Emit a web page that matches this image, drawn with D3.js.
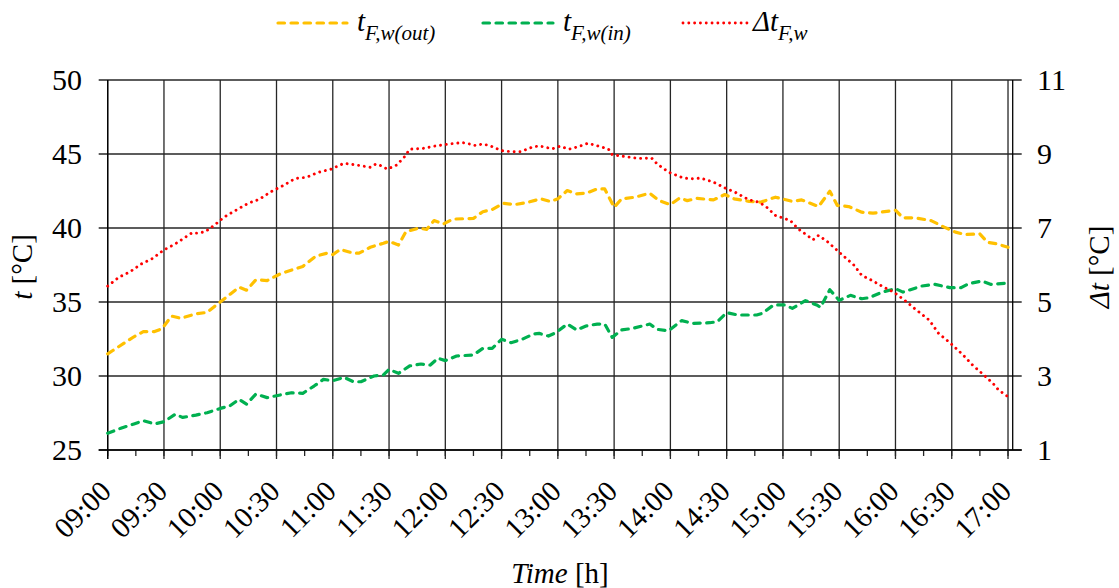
<!DOCTYPE html>
<html>
<head>
<meta charset="utf-8">
<script src="https://cdn.jsdelivr.net/npm/d3@7"></script>
</head>
<body style="margin:0">
<div id="chart"></div>
<script>
// t_F,w(out) - left axis
const outTimes = ["09:00","09:14","09:19","09:25","09:29","09:34","09:39","09:47","09:53","10:00","10:05","10:10","10:14","10:19","10:25","10:32","10:39","10:44","10:51","10:57","11:00","11:04","11:11","11:14","11:20","11:27","11:30","11:35","11:39","11:46","11:50","11:54","11:59","12:04","12:15","12:20","12:25","12:31","12:37","12:44","12:51","12:56","13:00","13:05","13:10","13:15","13:21","13:25","13:30","13:34","13:41","13:49","13:54","14:00","14:05","14:09","14:14","14:23","14:29","14:34","14:42","14:48","14:56","15:05","15:10","15:19","15:25","15:29","15:35","15:42","15:48","16:00","16:04","16:10","16:19","16:26","16:32","16:37","16:45","16:49","16:54","17:00"];
const outValues = [31.5,32.65,33.0,33.0,33.2,34.05,33.9,34.2,34.3,35.0,35.5,36.0,35.8,36.5,36.45,36.9,37.2,37.4,38.1,38.3,38.2,38.55,38.3,38.3,38.7,38.97,39.1,38.85,39.75,40.0,39.9,40.5,40.27,40.6,40.65,41.1,41.25,41.67,41.58,41.74,41.97,41.79,41.97,42.53,42.3,42.35,42.64,42.64,41.4,41.97,42.08,42.35,41.85,41.58,42.03,41.85,42.0,41.9,42.26,41.97,41.8,41.74,42.08,41.8,41.9,41.45,42.48,41.52,41.45,41.07,41.0,41.2,40.69,40.69,40.5,40.06,39.72,39.56,39.6,39.04,38.93,38.7];

// t_F,w(in) - left axis
const inTimes = ["09:00","09:07","09:14","09:19","09:25","09:30","09:36","09:40","09:47","09:53","10:00","10:05","10:10","10:14","10:19","10:25","10:32","10:38","10:44","10:50","10:55","11:00","11:06","11:11","11:15","11:22","11:27","11:30","11:35","11:41","11:47","11:52","11:56","12:00","12:06","12:15","12:20","12:25","12:30","12:35","12:41","12:47","12:50","12:55","12:59","13:05","13:10","13:15","13:21","13:25","13:29","13:34","13:40","13:49","13:53","13:59","14:06","14:12","14:21","14:25","14:30","14:36","14:46","14:49","14:55","15:01","15:05","15:12","15:18","15:20","15:25","15:30","15:36","15:42","15:46","15:53","16:00","16:04","16:14","16:21","16:29","16:35","16:39","16:46","16:51","17:00"];
const inValues = [26.13,26.47,26.76,26.98,26.76,26.91,27.41,27.2,27.36,27.52,27.81,27.97,28.42,28.1,28.78,28.54,28.72,28.87,28.83,29.32,29.77,29.68,29.91,29.61,29.61,30.0,30.07,30.45,30.18,30.68,30.81,30.74,31.2,31.04,31.35,31.42,31.87,31.87,32.48,32.25,32.48,32.84,32.88,32.7,32.93,33.51,33.11,33.38,33.51,33.51,32.61,33.11,33.22,33.51,33.15,33.06,33.74,33.56,33.6,33.67,34.28,34.12,34.12,34.23,34.8,34.8,34.57,35.09,34.8,34.64,35.83,35.11,35.45,35.22,35.29,35.67,35.9,35.67,36.08,36.19,35.97,35.97,36.24,36.42,36.19,36.28];

// Δt_F,w - right axis
const dTimes = ["09:00","09:06","09:12","09:18","09:24","09:30","09:36","09:42","09:45","09:48","09:52","09:57","10:02","10:09","10:15","10:21","10:27","10:34","10:40","10:46","10:52","10:59","11:06","11:13","11:20","11:23","11:26","11:29","11:34","11:38","11:41","11:48","11:55","12:02","12:09","12:13","12:16","12:20","12:24","12:30","12:36","12:40","12:46","12:50","12:57","13:01","13:06","13:11","13:16","13:24","13:27","13:29","13:36","13:43","13:50","13:53","13:59","14:07","14:12","14:16","14:23","14:30","14:34","14:42","14:47","14:51","14:56","15:04","15:08","15:13","15:16","15:19","15:24","15:31","15:38","15:42","15:48","15:53","15:59","16:05","16:11","16:18","16:23","16:29","16:36","16:41","16:47","16:52","16:55","17:00"];
const dValues = [5.43,5.67,5.82,6.03,6.18,6.41,6.57,6.77,6.87,6.86,6.9,7.08,7.29,7.5,7.67,7.78,7.98,8.16,8.34,8.37,8.5,8.59,8.75,8.7,8.64,8.73,8.68,8.59,8.7,8.91,9.13,9.15,9.22,9.27,9.31,9.27,9.23,9.27,9.22,9.09,9.06,9.06,9.18,9.22,9.14,9.21,9.13,9.2,9.29,9.18,9.13,8.98,8.93,8.88,8.89,8.73,8.51,8.35,8.33,8.35,8.24,8.06,7.98,7.76,7.7,7.58,7.34,7.2,6.98,6.8,6.68,6.8,6.62,6.3,5.99,5.72,5.57,5.42,5.27,5.04,4.79,4.51,4.15,3.9,3.57,3.3,3.03,2.8,2.62,2.44];

const leftTicks = [25, 30, 35, 40, 45, 50];
const rightTicks = [1, 3, 5, 7, 9, 11];
const timeLabels = ["09:00","09:30","10:00","10:30","11:00","11:30","12:00","12:30","13:00","13:30","14:00","14:30","15:00","15:30","16:00","16:30","17:00"];

const parse = d3.timeParse("%H:%M");
const width = 1119, height = 588;
const plotLeft = 107.7, plotRight = 1012.7, plotTop = 80, plotBottom = 450;
const fontStyle = "font-family: Tinos, 'Liberation Serif', 'Times New Roman', serif";

const svg = d3.select("#chart").append("svg")
  .attr("width", width).attr("height", height)
  .attr("font-family", "Tinos, 'Liberation Serif', serif");

const x = d3.scaleTime()
  .domain([parse("09:00"), d3.timeParse("%H:%M:%S")("17:02:30")])
  .range([plotLeft, plotRight]);
const yL = d3.scaleLinear().domain([25, 50]).range([plotBottom, plotTop]);
const yR = d3.scaleLinear().domain([1, 11]).range([plotBottom, plotTop]);

const majorTicks = timeLabels.map(parse);
const minorTicks = d3.timeMinute.every(15).range(parse("09:00"), parse("17:01"));

// gridlines
const grid = svg.append("g").attr("stroke", "#262626").attr("stroke-width", 1.3);
grid.selectAll(".h").data(leftTicks).enter().append("line")
  .attr("x1", plotLeft - 9).attr("x2", plotRight + 9)
  .attr("y1", d => yL(d)).attr("y2", d => yL(d));
grid.selectAll(".v").data(majorTicks).enter().append("line")
  .attr("x1", d => x(d)).attr("x2", d => x(d))
  .attr("y1", plotTop).attr("y2", plotBottom + 9);
grid.selectAll(".m").data(minorTicks).enter().append("line")
  .attr("x1", d => x(d)).attr("x2", d => x(d))
  .attr("y1", plotBottom).attr("y2", plotBottom + 6);

// axis lines
const axes = svg.append("g").attr("stroke", "#000").attr("stroke-width", 1.3);
axes.append("line").attr("x1", plotLeft).attr("x2", plotLeft).attr("y1", plotTop).attr("y2", plotBottom + 9);
axes.append("line").attr("x1", plotRight).attr("x2", plotRight).attr("y1", plotTop).attr("y2", plotBottom);
axes.append("line").attr("x1", plotLeft - 9).attr("x2", plotRight + 9).attr("y1", plotBottom).attr("y2", plotBottom);

// tick labels
svg.selectAll(".ltick").data(leftTicks).enter().append("text")
  .attr("style", fontStyle)
  .attr("x", 82).attr("y", d => yL(d)).attr("dy", "0.34em")
  .attr("text-anchor", "end").attr("font-size", 30).text(d => d);
svg.selectAll(".rtick").data(rightTicks).enter().append("text")
  .attr("style", fontStyle)
  .attr("x", 1037).attr("y", d => yR(d)).attr("dy", "0.34em")
  .attr("text-anchor", "start").attr("font-size", 30).text(d => d);
svg.selectAll(".xtick").data(majorTicks).enter().append("text")
  .attr("style", fontStyle)
  .attr("transform", d => `translate(${x(d) + 5},${493}) rotate(-45)`)
  .attr("text-anchor", "end").attr("font-size", 29)
  .text((d, i) => timeLabels[i]);

// axis titles
const lt = svg.append("text").attr("style", fontStyle)
  .attr("transform", "translate(32,267) rotate(-90)")
  .attr("text-anchor", "middle").attr("font-size", 29);
lt.append("tspan").attr("font-style", "italic").text("t");
lt.append("tspan").text(" [°C]");
const rt = svg.append("text").attr("style", fontStyle)
  .attr("transform", "translate(1109,267) rotate(-90)")
  .attr("text-anchor", "middle").attr("font-size", 29);
rt.append("tspan").attr("font-style", "italic").text("Δt");
rt.append("tspan").text(" [°C]");
const xt = svg.append("text").attr("style", fontStyle)
  .attr("x", 560).attr("y", 583)
  .attr("text-anchor", "middle").attr("font-size", 29);
xt.append("tspan").attr("font-style", "italic").text("Time");
xt.append("tspan").text(" [h]");

// series
const series = [
  { times: outTimes, values: outValues, y: yL, color: "#FFC000", dash: "6.5 6.5", w: 3.2 },
  { times: inTimes, values: inValues, y: yL, color: "#00B050", dash: "6.5 6.5", w: 3.2 },
  { times: dTimes, values: dValues, y: yR, color: "#FF0000", dash: "0.01 5.8", w: 2.9 }
];
series.forEach(s => {
  const pts = s.times.map((t, i) => [parse(t), s.values[i]]);
  svg.append("path").datum(pts)
    .attr("fill", "none").attr("stroke", s.color)
    .attr("stroke-width", s.w).attr("stroke-dasharray", s.dash)
    .attr("stroke-linecap", "round").attr("stroke-linejoin", "round")
    .attr("d", d3.line().x(d => x(d[0])).y(d => s.y(d[1])));
});

// legend
const legend = [
  { x1: 278, x2: 347, tx: 357, main: "t", sub: "F,w(out)", s: series[0] },
  { x1: 483, x2: 553, tx: 563, main: "t", sub: "F,w(in)", s: series[1] },
  { x1: 683, x2: 751, tx: 753, main: "Δt", sub: "F,w", s: series[2] }
];
legend.forEach(l => {
  svg.append("line").attr("x1", l.x1).attr("x2", l.x2).attr("y1", 23).attr("y2", 23)
    .attr("stroke", l.s.color).attr("stroke-width", l.s.w)
    .attr("stroke-dasharray", l.s.dash).attr("stroke-linecap", "round");
  const t = svg.append("text").attr("style", fontStyle)
    .attr("x", l.tx).attr("y", 31)
    .attr("font-style", "italic").attr("font-size", 29);
  t.append("tspan").text(l.main);
  t.append("tspan").attr("font-size", 21).attr("dy", 9).text(l.sub);
});
</script>
</body>
</html>
